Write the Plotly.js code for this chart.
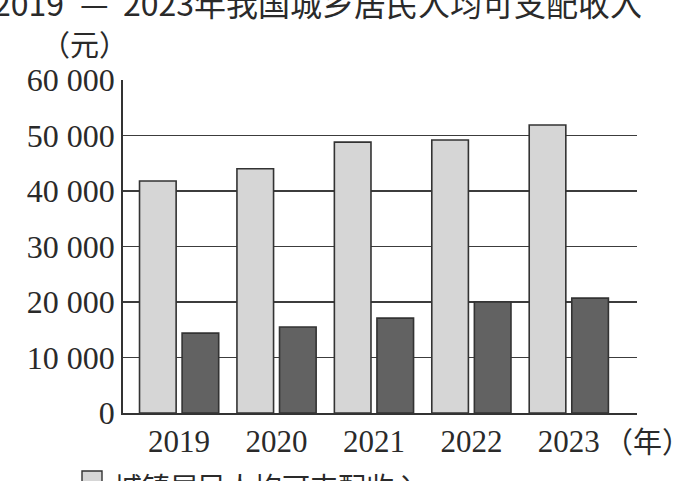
<!DOCTYPE html>
<html>
<head>
<meta charset="utf-8">
<script src="https://cdn.plot.ly/plotly-3.0.1.min.js"></script>
<style>html,body{margin:0;padding:0;background:#fff;}#chart{width:694px;height:481px;}</style>
</head>
<body>
<div id="chart"></div>
<script>
const years = ["2019", "2020", "2021", "2022", "2023"];
const urbanIncome = [41800, 44000, 48800, 49200, 51900];
const ruralIncome = [14400, 15500, 17100, 20000, 20700];
const yTickVals = [0, 10000, 20000, 30000, 40000, 50000, 60000];
const yTickText = ["0", "10 000", "20 000", "30 000", "40 000", "50 000", "60 000"];
const titleStart = "2019";
const titleDash = "—";
const titleRest = "2023年我国城乡居民人均可支配收入";
const legendText = "城镇居民人均可支配收入";

const W = 694, H = 481, L = 123, R = 57, T = 80, B = 68;
const pw = W - L - R, ph = H - T - B;
const px2x = p => (p - L) / pw;
const py2y = p => (H - B - p) / ph;

const edge = "#333333";
const ink = "#2a2a2a";
const traces = [
  {type: "bar", x: years, y: urbanIncome, name: "城镇",
   marker: {color: "#d6d6d6", line: {color: edge, width: 1.6}}},
  {type: "bar", x: years, y: ruralIncome, name: "农村",
   marker: {color: "#626262", line: {color: edge, width: 1.6}}}
];

const titleFont = {size: 32, family: "Noto Sans CJK SC", color: ink};
const layout = {
  width: W, height: H,
  margin: {l: L, r: R, t: T, b: B, pad: 0},
  paper_bgcolor: "#fff", plot_bgcolor: "#fff",
  showlegend: false,
  barmode: "group", bargap: 0.126, bargroupgap: 0.14,
  font: {family: "Liberation Serif, serif", color: ink},
  xaxis: {type: "category", range: [-0.576, 4.70], showgrid: false,
          showline: true, linecolor: edge, linewidth: 1.8, ticks: "",
          tickfont: {size: 31, family: "Liberation Serif, serif", color: ink},
          ticklabelstandoff: 0},
  yaxis: {range: [0, 60000], tickvals: yTickVals, ticktext: yTickText,
          showgrid: true, gridcolor: "#3c3c3c", gridwidth: 1.8,
          showline: true, linecolor: edge, linewidth: 1.8, ticks: "",
          zeroline: false,
          tickfont: {size: 32, family: "Liberation Serif, serif", color: ink},
          ticklabelstandoff: 0},
  annotations: [
    {text: titleStart, xref: "paper", yref: "paper", x: px2x(66), y: py2y(2),
     xanchor: "right", yanchor: "middle", showarrow: false, font: titleFont},
    {text: titleDash, xref: "paper", yref: "paper", x: px2x(94), y: py2y(2),
     xanchor: "center", yanchor: "middle", showarrow: false, font: titleFont},
    {text: titleRest, xref: "paper", yref: "paper", x: px2x(121), y: py2y(2),
     xanchor: "left", yanchor: "middle", showarrow: false, font: titleFont},
    {text: "（元）", xref: "paper", yref: "paper", x: px2x(84), y: py2y(43),
     xanchor: "center", yanchor: "middle", showarrow: false,
     font: {size: 29, family: "Noto Sans CJK SC", color: ink}},
    {text: "（年）", xref: "paper", yref: "paper", x: px2x(602), y: py2y(440),
     xanchor: "left", yanchor: "middle", showarrow: false,
     font: {size: 29, family: "Noto Sans CJK SC", color: ink}},
    {text: legendText, xref: "paper", yref: "paper", x: px2x(112), y: py2y(464),
     xanchor: "left", yanchor: "top", showarrow: false,
     font: {size: 28, family: "Noto Sans CJK SC", color: ink}}
  ],
  shapes: [
    {type: "rect", xref: "paper", yref: "paper", x0: px2x(82), x1: px2x(102),
     y0: py2y(471), y1: py2y(495), fillcolor: "#d6d6d6", line: {color: edge, width: 1.4}}
  ]
};

Plotly.newPlot("chart", traces, layout, {displayModeBar: false, staticPlot: true});
</script>
</body>
</html>
